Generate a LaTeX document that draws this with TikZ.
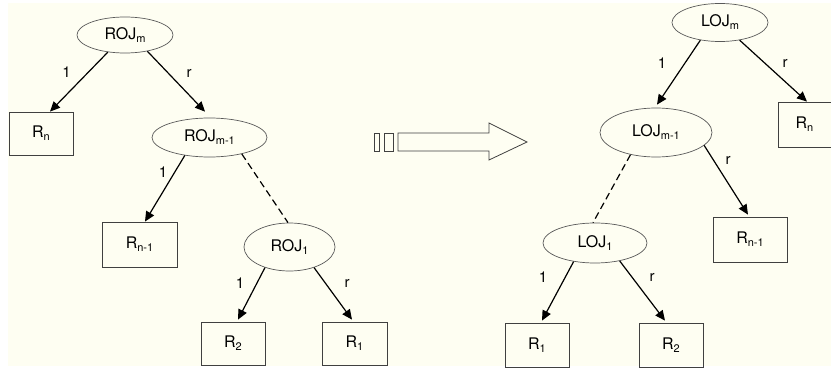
\documentclass[tikz,border=0pt]{standalone}
\usepackage{fontspec}
\setmainfont{TeX Gyre Heros}
\usetikzlibrary{shapes.geometric,arrows.meta}
\definecolor{ivory}{RGB}{254,254,242}
\newcommand\lsub[1]{\raisebox{-3pt}{\fontsize{11}{12}\selectfont#1}}
\begin{document}
\begin{tikzpicture}[x=1pt,y=-1pt,
    joinop/.style={ellipse,draw=black!65,line width=0.7pt,inner sep=0pt,font=\fontsize{16}{19}\selectfont},
    relbox/.style={rectangle,draw=black!75,line width=0.8pt,inner sep=0pt,font=\fontsize{16}{19}\selectfont},
    treearrow/.style={line width=1.2pt,-{Triangle[length=10pt,width=9pt]}},
    treedash/.style={line width=1.2pt,dash pattern=on 7pt off 4pt},
    lbl/.style={inner sep=0pt,font=\fontsize{15}{18}\selectfont}]
  \useasboundingbox (0,0) rectangle (831,369);
  \clip (0,0) rectangle (831,369);
  \fill[ivory] (8,3) rectangle (831,366);
  % left tree
  \node[joinop,minimum width=96,minimum height=36] (ROJm) at (125,35) {ROJ\lsub{m}};
  \node[relbox,minimum width=64,minimum height=43] (Rn) at (41,133.5) {R\lsub{n}};
  \node[joinop,minimum width=115,minimum height=39] (ROJm1) at (209.5,137.5) {ROJ\lsub{m-1}};
  \node[relbox,minimum width=75,minimum height=45] (Rn1) at (139.5,244.5) {R\lsub{n-1}};
  \node[joinop,minimum width=91,minimum height=48] (ROJ1) at (289.5,247) {ROJ\lsub{1}};
  \node[relbox,minimum width=64,minimum height=43] (R2) at (233,343.5) {R\lsub{2}};
  \node[relbox,minimum width=65,minimum height=43] (R1) at (354.5,343.5) {R\lsub{1}};
  \draw[treearrow] (ROJm.225) -- ([xshift=9pt]Rn.north);
  \draw[treearrow] (ROJm.-36) -- ([xshift=-4.5pt,yshift=6pt]ROJm1.north);
  \draw[treearrow] (ROJm1.216) -- ([xshift=5.5pt]Rn1.north);
  \draw[treedash] (ROJm1.-27) -- ([xshift=-1.5pt]ROJ1.north);
  \draw[treearrow] (ROJ1.220) -- ([xshift=5pt,yshift=2pt]R2.north);
  \draw[treearrow] (ROJ1.-40) -- ([xshift=-2.5pt,yshift=2pt]R1.north);
  \node[lbl] (l1) at (66.5,72) {1};
  \node[lbl] (l2) at (189,73) {r};
  \node[lbl] (l3) at (163,172) {1};
  \node[lbl] (l4) at (240,283) {1};
  \node[lbl] (l5) at (347,283) {r};
  % transform arrow
  \draw[black!75,line width=0.8pt] (398,133) -- (489,133) -- (489,123) -- (527,142)
    -- (489,160) -- (489,151) -- (398,151) -- cycle;
  \draw[black!75,line width=0.8pt] (374,133) rectangle (379.5,151);
  \draw[black!75,line width=0.8pt] (384,133) rectangle (393.5,151);
  % right tree
  \node[joinop,minimum width=96,minimum height=38] (LOJm) at (720,22.5) {LOJ\lsub{m}};
  \node[joinop,minimum width=112,minimum height=49] (LOJm1) at (656,132.5) {LOJ\lsub{m-1}};
  \node[relbox,minimum width=64,minimum height=45] (Rnb) at (810,124.5) {\hspace{-11pt}R\lsub{n}};
  \node[joinop,minimum width=104,minimum height=40] (LOJ1) at (595,243) {LOJ\lsub{1}};
  \node[relbox,minimum width=74,minimum height=45] (Rn1b) at (750,239.5) {R\lsub{n-1}};
  \node[relbox,minimum width=64,minimum height=44] (R1b) at (537,345) {R\lsub{1}};
  \node[relbox,minimum width=64,minimum height=44] (R2b) at (671,345) {R\lsub{2}};
  \draw[treearrow] (LOJm.222) -- ([xshift=1pt,yshift=3pt]LOJm1.north);
  \draw[treearrow] (LOJm.-42) -- ([xshift=-3pt]Rnb.north);
  \draw[treearrow] (LOJm1.-15) -- ([xshift=-2pt,yshift=2pt]Rn1b.north);
  \draw[treedash] (LOJm1.221) -- ([xshift=-2pt]LOJ1.north);
  \draw[treearrow] (LOJ1.221) -- ([xshift=5pt,yshift=2pt]R1b.north);
  \draw[treearrow] (LOJ1.-36) -- ([xshift=-6pt,yshift=2pt]R2b.north);
  \node[lbl] (l6) at (662,63) {1};
  \node[lbl] (l7) at (785,63) {r};
  \node[lbl] (l8) at (728,160) {r};
  \node[lbl] (l9) at (543,277) {1};
  \node[lbl] (l10) at (652,277) {r};
\end{tikzpicture}
\end{document}
